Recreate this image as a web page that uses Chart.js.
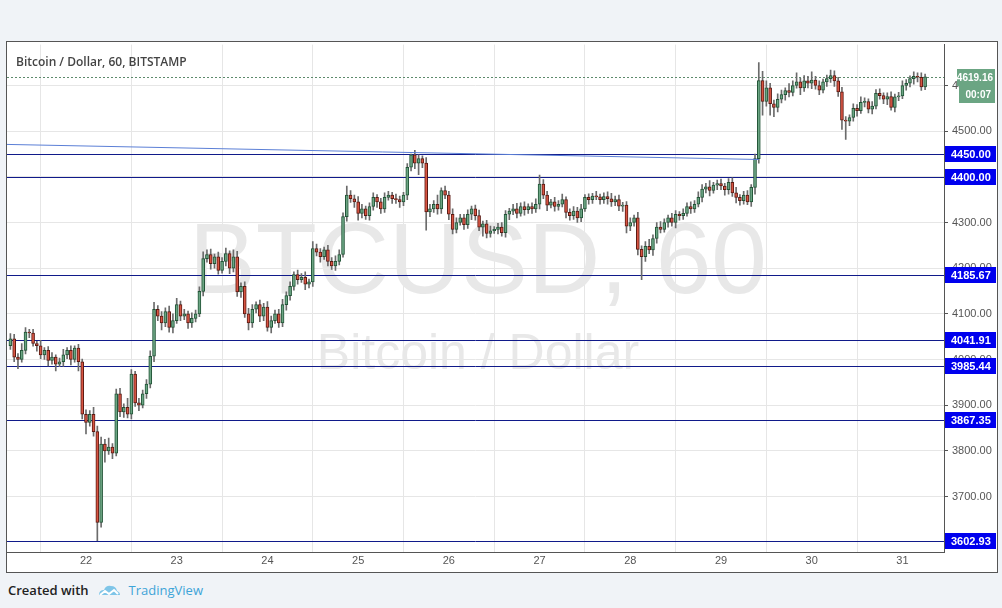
<!DOCTYPE html>
<html>
<head>
<meta charset="utf-8">
<script src="https://cdn.jsdelivr.net/npm/chart.js@4.4.1/dist/chart.umd.min.js"></script>
<style>
  body { margin: 0; width: 1002px; height: 608px; background: #f0f3f7; position: relative; overflow: hidden; font-family: "Liberation Sans", Arial, sans-serif; }
  #frame { position: absolute; left: 6px; top: 41px; width: 990px; height: 530px; border: 1px solid #555; background: #fff; overflow: hidden; }
  #wrap { position: absolute; left: 0; top: -8px; width: 990px; height: 538px; }
  #title { position: absolute; left: 9px; top: 11px; font: 600 12px "Open Sans", sans-serif; color: #444; }
  #footer { position: absolute; left: 8px; top: 581px; font: 600 13px "Open Sans", sans-serif; color: #222; }
  #footer .tv { color: #3ea4d8; font-weight: 400; margin-left: 8px; }
  #footer svg { vertical-align: -4px; margin-left: 8px; }
</style>
</head>
<body>
<div id="frame">
  <div id="wrap"><canvas id="myChart"></canvas></div>
  <div id="title">Bitcoin / Dollar, 60, BITSTAMP</div>
</div>
<div id="footer">Created with<svg width="24" height="16" viewBox="0 0 24 16"><path d="M2 12 Q2 7 7 7 Q9 2 14 3 Q19 3 20 8 Q23 9 23 12 Z" fill="#7fc5e8"/><path d="M3 12 L8 8 L12 11 L17 7 L21 11" stroke="#fff" stroke-width="2" fill="none"/></svg><span class="tv">TradingView</span></div>

<script>
// hourly candles, index 20 = 22nd 00:00
const firstOpen = 4030;
const closes = [
  4045,4005,4000,4020,4060,4058,4035,4030,4010,4020,
  3998,4005,3990,3995,4010,4020,4000,4025,3995,3880,
  3862,3880,3842,3643,3815,3800,3808,3795,3925,3885,
  3895,3880,3968,3905,3900,3925,3946,4007,4110,4095,
  4080,4105,4070,4085,4120,4095,4100,4080,4090,4100,
  4149,4221,4230,4210,4225,4195,4215,4232,4200,4225,
  4148,4160,4100,4080,4110,4120,4095,4115,4070,4085,
  4100,4080,4120,4140,4160,4186,4175,4180,4165,4170,
  4243,4235,4225,4240,4215,4205,4215,4230,4313,4360,
  4352,4345,4320,4330,4315,4335,4355,4345,4330,4355,
  4360,4352,4350,4345,4360,4421,4448,4430,4440,4430,
  4323,4330,4340,4330,4370,4360,4318,4285,4300,4310,
  4295,4318,4330,4315,4290,4297,4276,4282,4285,4290,
  4278,4318,4325,4330,4320,4335,4328,4335,4330,4340,
  4384,4360,4338,4345,4335,4340,4350,4322,4315,4325,
  4310,4330,4355,4350,4358,4356,4350,4357,4352,4345,
  4350,4336,4338,4292,4300,4310,4241,4225,4248,4240,
  4265,4290,4285,4300,4310,4300,4318,4315,4320,4335,
  4330,4340,4355,4373,4378,4370,4382,4385,4380,4372,
  4388,4365,4355,4348,4360,4345,4377,4440,4611,4565,
  4595,4560,4552,4570,4580,4589,4585,4600,4608,4595,
  4610,4605,4612,4600,4590,4608,4615,4622,4610,4586,
  4524,4522,4530,4550,4545,4563,4565,4548,4555,4583,
  4578,4570,4576,4552,4575,4577,4600,4605,4615,4620,
  4618,4597,4619.16
];
const wickUp = [
  12,10,8,15,10,6,8,5,12,6, 8,10,5,8,12,6,10,5,8,6,
  10,8,15,12,15,10,20,8,10,12, 8,20,10,6,10,8,10,12,15,8,
  10,8,12,15,14,8,10,6,12,8, 10,15,10,12,6,10,8,12,6,15,
  12,8,10,12,10,6,10,8,12,10, 8,10,12,8,10,6,10,8,12,6,
  15,10,8,6,10,8,12,10,8,20, 10,8,12,10,6,8,10,6,8,10,
  8,6,10,8,6,8,2,10,8,6, 12,10,8,20,6,10,8,12,10,8,
  8,10,6,8,12,6,8,10,6,8, 10,8,6,10,12,8,10,6,8,12,
  20,10,8,6,10,8,12,6,8,10, 8,10,6,8,6,10,6,8,10,12,
  8,10,6,8,10,6,12,8,10,15, 8,10,12,8,6,10,8,6,10,8,
  10,8,12,10,8,14,6,8,10,6, 8,10,12,6,8,10,6,10,39,20,
  15,10,8,12,10,6,15,10,20,8, 12,10,18,8,10,6,8,12,10,8,
  10,8,6,10,8,12,8,6,10,8, 10,6,8,10,6,8,10,8,6,10,
  8,10,6
];
const wickDn = [
  8,10,20,6,8,10,6,12,8,10, 12,8,15,6,10,8,12,6,20,10,
  25,8,10,40,10,25,8,12,6,10, 12,8,10,8,12,6,10,8,12,10,
  15,8,10,12,6,10,8,12,10,8, 6,10,8,12,10,8,6,10,12,8,
  10,12,8,15,10,8,12,10,8,12, 6,10,8,12,10,8,10,6,12,8,
  10,8,12,6,10,8,10,8,6,10, 8,12,15,10,8,10,8,12,10,8,
  6,10,8,12,8,10,8,12,25,10, 40,10,8,12,10,8,12,10,8,6,
  10,8,12,10,8,20,10,8,6,10, 8,10,12,8,10,6,12,8,10,8,
  10,8,12,6,10,8,6,12,10,8, 10,8,6,10,8,6,10,8,12,10,
  8,10,12,15,10,8,12,50,10,8, 12,10,8,6,10,8,12,10,8,6,
  10,8,6,10,8,12,6,10,8,12, 10,8,12,10,8,6,10,15,10,30,
  10,25,20,10,8,12,10,8,6,15, 8,10,12,8,10,6,10,8,12,10,
  20,40,10,8,12,6,10,8,10,6, 8,10,12,6,10,8,6,10,8,12,
  10,8,6
];
const dayLabels = ["22", "23", "24", "25", "26", "27", "28", "29", "30", "31"];
const priceTicks = [3700, 3800, 3900, 4000, 4100, 4200, 4300, 4400, 4500, 4600];
const levels = [4450.00, 4400.00, 4185.67, 4041.91, 3985.44, 3867.35, 3602.93];
const lastPrice = 4619.16;
const trendLine = [{ x: -21, y: 4471 }, { x: 178, y: 4438 }];

const GREEN = "#6ba583", GREEN_B = "#225437", RED = "#d75442", RED_B = "#5b1a13";

const bodies = [], wicks = [], fills = [], borders = [];
closes.forEach((c, i) => {
  const o = i === 0 ? firstOpen : closes[i - 1];
  const x = i - 20;
  bodies.push({ x, y: [o, c] });
  wicks.push({ x, y: [Math.min(o, c) - wickDn[i], Math.max(o, c) + wickUp[i]] });
  fills.push(c >= o ? GREEN : RED);
  borders.push(c >= o ? GREEN_B : RED_B);
});

// watermark, level lines and right-side labels
const overlay = {
  id: "overlay",
  beforeDatasetsDraw(chart) {
    const { ctx, chartArea: a } = chart;
    ctx.save();
    ctx.fillStyle = "#e8e8e8";
    ctx.textAlign = "center";
    ctx.textBaseline = "middle";
    ctx.font = '100px "Liberation Sans", Arial';
    ctx.fillText("BTCUSD, 60", 471, 231);
    ctx.font = '50px "Liberation Sans", Arial';
    ctx.fillText("Bitcoin / Dollar", 471, 321);
    const y = chart.scales.y;
    ctx.strokeStyle = "#101a8a";
    ctx.lineWidth = 1;
    levels.forEach(v => {
      const py = Math.round(y.getPixelForValue(v)) + 0.5;
      ctx.beginPath(); ctx.moveTo(a.left, py); ctx.lineTo(a.right, py); ctx.stroke();
    });
    const lp = Math.round(y.getPixelForValue(lastPrice)) + 0.5;
    ctx.strokeStyle = "#5d8a6c";
    ctx.setLineDash([2, 2]);
    ctx.beginPath(); ctx.moveTo(a.left, lp); ctx.lineTo(a.right, lp); ctx.stroke();
    ctx.restore();
  },
  afterDraw(chart) {
    const { ctx, chartArea: a } = chart;
    const y = chart.scales.y;
    ctx.save();
    ctx.font = 'bold 11px "Liberation Sans", Arial';
    ctx.textAlign = "left";
    ctx.textBaseline = "middle";
    levels.forEach(v => {
      const py = Math.round(y.getPixelForValue(v));
      ctx.fillStyle = "#0000ee";
      ctx.fillRect(a.right + 1, py - 8, 51, 16);
      ctx.fillStyle = "#fff";
      ctx.fillText(v.toFixed(2), a.right + 7, py + 1);
    });
    const lp = Math.round(y.getPixelForValue(lastPrice));
    ctx.fillStyle = GREEN;
    ctx.fillRect(a.right + 13, lp - 8, 38, 17);
    ctx.fillRect(a.right + 15, lp + 9, 36, 17);
    ctx.fillStyle = "#fff";
    ctx.font = 'bold 10px "Liberation Sans", Arial';
    ctx.textAlign = "right";
    ctx.fillText(lastPrice.toFixed(2), a.right + 49, lp + 1);
    ctx.fillText("00:07", a.right + 47, lp + 18);
    ctx.restore();
  }
};

const ctx = document.getElementById("myChart").getContext("2d");
const config = {
  data: {
    datasets: [
      { type: "line", data: trendLine, borderColor: "#5b7fd6", borderWidth: 1, pointRadius: 0, order: 0 },
      { type: "bar", data: wicks, backgroundColor: "#6b6b6b", barThickness: 1, grouped: false, order: 2 },
      { type: "bar", data: bodies, backgroundColor: fills, borderColor: borders, borderWidth: 1,
        borderSkipped: false, barThickness: 3, minBarLength: 1, grouped: false, order: 1 },
    ],
  },
  options: {
    responsive: true,
    maintainAspectRatio: false,
    animation: false,
    layout: { padding: 0 },
    plugins: { legend: { display: false }, tooltip: { enabled: false } },
    scales: {
      x: {
        type: "linear",
        min: -20.9,
        max: 227,
        offset: false,
        afterBuildTicks: s => { s.ticks = dayLabels.map((d, i) => ({ value: i * 24 })); },
        afterFit: s => { s.height = 20; },
        ticks: {
          callback: (v) => dayLabels[v / 24],
          color: "#555", font: { size: 11, family: "Liberation Sans" }, maxRotation: 0, padding: 2,
        },
        grid: { color: "#e6e6e6", drawTicks: false },
        border: { color: "#555" },
      },
      y: {
        position: "right",
        min: 3578.4,
        max: 4689.6,
        afterBuildTicks: s => { s.ticks = priceTicks.map(v => ({ value: v })); },
        afterFit: s => { s.width = 53; },
        ticks: {
          callback: v => v.toFixed(2),
          color: "#555", font: { size: 11, family: "Liberation Sans" }, padding: 4,
        },
        grid: { color: "#e6e6e6", tickLength: 4, tickColor: "#555" },
        border: { color: "#555" },
      },
    },
  },
  plugins: [overlay],
};
const myChart = new Chart(ctx, config);
</script>
</body>
</html>
